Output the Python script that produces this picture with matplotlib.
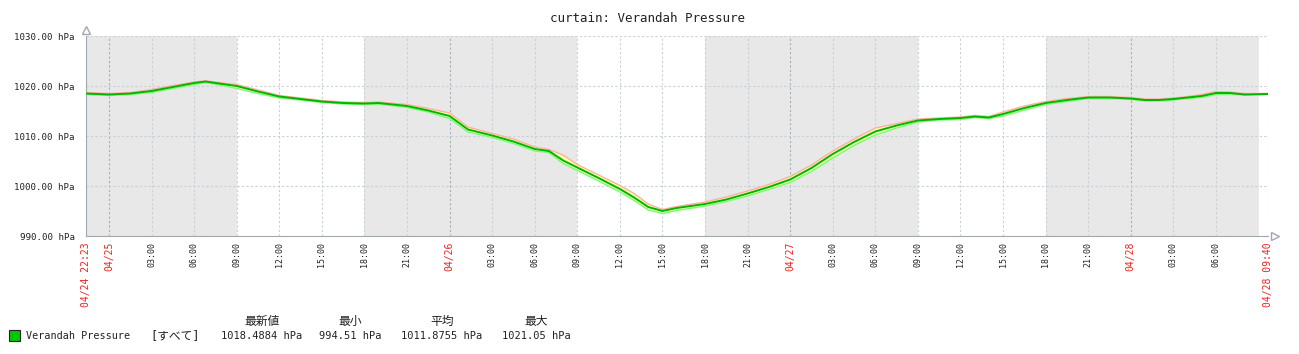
import matplotlib.pyplot as plt
import numpy as np

# Datos: horas desde 04/25 00:00
hours = [-1.62, 0, 1.5, 3, 4.5, 6, 6.8, 8, 9, 10.5, 12, 13.5, 15, 16.5, 18, 19, 21, 22.5,
         24, 25.3, 27, 28.5, 30, 31, 32, 33, 34.5, 36, 37, 38, 39, 40, 42, 43.5, 45, 46.5,
         48, 49.5, 51, 52.5, 54, 55.5, 57, 58.5, 60, 61, 62, 63, 64.5, 66, 67.5, 69, 70.5,
         72, 73, 74, 75, 76, 77, 78, 79, 80, 81.67]
avg_vals = [1018.5, 1018.3, 1018.5, 1019.0, 1019.8, 1020.6, 1020.9, 1020.4, 1020.0, 1018.9,
            1017.9, 1017.4, 1016.9, 1016.6, 1016.5, 1016.6, 1016.0, 1015.1, 1014.0, 1011.3,
            1010.1, 1008.9, 1007.4, 1007.0, 1005.1, 1003.7, 1001.6, 999.4, 997.7, 995.8,
            995.0, 995.6, 996.4, 997.3, 998.5, 999.8, 1001.3, 1003.6, 1006.4, 1008.8,
            1010.9, 1012.1, 1013.1, 1013.4, 1013.6, 1013.9, 1013.7, 1014.4, 1015.6, 1016.6,
            1017.2, 1017.7, 1017.7, 1017.5, 1017.2, 1017.2, 1017.4, 1017.7, 1018.0, 1018.6,
            1018.6, 1018.3, 1018.4]
max_vals = [1018.7, 1018.5, 1018.7, 1019.3, 1020.1, 1020.8, 1021.05, 1020.6, 1020.3, 1019.2,
            1018.1, 1017.6, 1017.1, 1016.8, 1016.7, 1016.8, 1016.3, 1015.5, 1014.6, 1011.8,
            1010.5, 1009.4, 1007.8, 1007.3, 1006.2, 1004.3, 1002.2, 1000.1, 998.5, 996.4,
            995.3, 995.9, 996.8, 997.8, 999.0, 1000.3, 1001.9, 1004.2, 1007.0, 1009.4,
            1011.6, 1012.5, 1013.4, 1013.6, 1013.8, 1014.1, 1013.9, 1014.8, 1016.0, 1016.9,
            1017.5, 1017.9, 1017.9, 1017.7, 1017.4, 1017.4, 1017.6, 1017.9, 1018.3, 1018.9,
            1018.8, 1018.5, 1018.5]
min_vals = [1018.3, 1018.1, 1018.3, 1018.7, 1019.5, 1020.3, 1020.7, 1020.1, 1019.5, 1018.5,
            1017.6, 1017.2, 1016.7, 1016.4, 1016.3, 1016.4, 1015.7, 1014.8, 1013.5, 1010.8,
            1009.7, 1008.5, 1007.0, 1006.7, 1004.5, 1003.1, 1001.0, 998.8, 997.1, 995.2,
            994.51, 995.1, 996.0, 996.9, 998.0, 999.3, 1000.7, 1002.9, 1005.6, 1008.1,
            1010.2, 1011.6, 1012.8, 1013.2, 1013.3, 1013.7, 1013.5, 1014.0, 1015.2, 1016.3,
            1016.9, 1017.5, 1017.5, 1017.3, 1017.0, 1017.0, 1017.2, 1017.5, 1017.7, 1018.3,
            1018.4, 1018.2, 1018.3]

t_start, t_end = -1.617, 81.667
tick_hours = list(range(0, 79, 3))
gray_spans = [(t_start, 9), (18, 33), (42, 57), (66, 81)]
y_ticks = [990, 1000, 1010, 1020, 1030]

legend_name = 'Verandah Pressure'
legend_heads = ['最新値', '最小', '平均', '最大']
legend_vals = ['1018.4884 hPa', '994.51 hPa', '1011.8755 hPa', '1021.05 hPa']

W, H = 1299, 354
fig = plt.figure(figsize=(W / 100, H / 100), dpi=100)
ax = fig.add_axes([86 / W, 1 - 236 / H, (1268 - 86) / W, 200 / H])
ax.set_xlim(t_start, t_end)
ax.set_ylim(990, 1030)

mono = ['DejaVu Sans Mono', 'Noto Sans CJK JP']

# zonas fuera de horario laboral
for a, b in gray_spans:
    ax.axvspan(a, b, color='#e8e8e8', lw=0, zorder=0)

# cuadricula
for h in tick_hours + [t_end]:
    c = '#a8b0b8' if h % 24 == 0 else '#c8d0d8'
    ax.axvline(h, color=c, lw=0.8, ls=(0, (2, 2)), zorder=1)
for y in y_ticks[1:]:
    ax.axhline(y, color='#c8d0d8', lw=0.8, ls=(0, (2, 2)), zorder=1)

# series
ax.fill_between(hours, min_vals, max_vals, color='#ffffb0', lw=0, zorder=2)
ax.plot(hours, max_vals, color='#ffb0a0', lw=1.0, zorder=3)
ax.plot(hours, min_vals, color='#70ff70', lw=1.0, zorder=3)
ax.plot(hours, avg_vals, color='#00b400', lw=1.4, zorder=4)

for s in ['top', 'right']:
    ax.spines[s].set_visible(False)
for s in ['left', 'bottom']:
    ax.spines[s].set_color('#a0a8b0')
ax.set_xticks([])
ax.set_yticks(y_ticks)
ax.set_yticklabels([f'{v:.2f} hPa' for v in y_ticks], family=mono, fontsize=6.6, color='#222222')
ax.tick_params(axis='y', length=0, pad=8)

# flechas de los ejes
ax.plot([t_start], [1031.2], marker='^', ms=6, mfc='white', mec='#a0a8b0', clip_on=False)
ax.plot([t_end + 0.5], [990], marker='>', ms=6, mfc='white', mec='#a0a8b0', clip_on=False)

# etiquetas del eje x
trans = ax.get_xaxis_transform()
for h in tick_hours:
    if h % 24 == 0:
        lab = f'04/{25 + h // 24}'
        col = '#ee2222'
        fs = 7
    else:
        lab = f'{h % 24:02d}:00'
        col = '#222222'
        fs = 6
    ax.text(h, -0.03, lab, transform=trans, rotation=90, ha='center', va='top',
            family=mono, fontsize=fs, color=col)
ax.text(t_start, -0.03, '04/24 22:23', transform=trans, rotation=90, ha='center', va='top',
        family=mono, fontsize=7, color='#ee2222')
ax.text(t_end, -0.03, '04/28 09:40', transform=trans, rotation=90, ha='center', va='top',
        family=mono, fontsize=7, color='#ee2222')

fig.text(648 / W, 1 - 19 / H, 'curtain: Verandah Pressure', ha='center', va='center',
         family=mono, fontsize=9, color='#222222')

# leyenda
fig.patches.append(plt.Rectangle((9 / W, 1 - 341 / H), 11 / W, 11 / H, transform=fig.transFigure,
                                 facecolor='#00c800', edgecolor='#222222', lw=0.8))
fig.text(26 / W, 1 - 336 / H, legend_name, va='center', family=mono, fontsize=7.3, color='#222222')
fig.text(150 / W, 1 - 336 / H, '[すべて]', va='center', family=mono, fontsize=8.5, color='#222222')
for cx, hd, v in zip([262, 350, 442, 536], legend_heads, legend_vals):
    fig.text(cx / W, 1 - 321 / H, hd, ha='center', va='center', family=mono, fontsize=8.5, color='#222222')
    fig.text(cx / W, 1 - 336 / H, v, ha='center', va='center', family=mono, fontsize=7.5, color='#222222')

fig.savefig('out.png', dpi=100, facecolor='white')
